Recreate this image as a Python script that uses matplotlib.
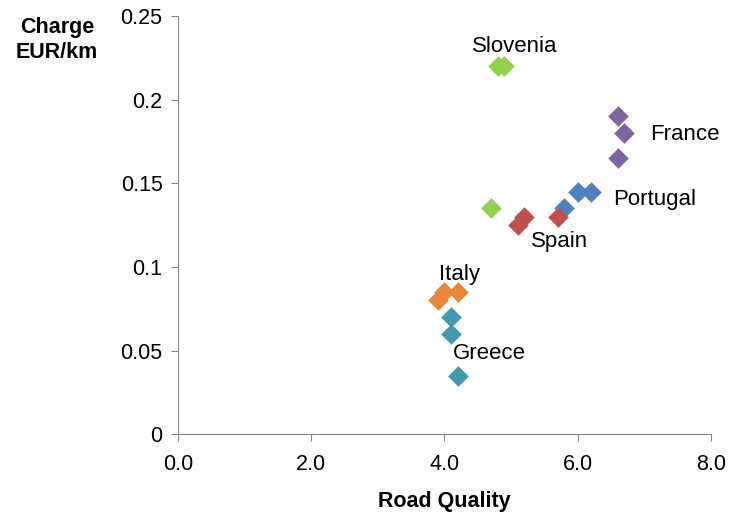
import matplotlib.pyplot as plt

plt.rcParams['font.family'] = ['Liberation Sans', 'DejaVu Sans']

# data: road quality (x) vs charge EUR/km (y)
countries = ['Slovenia', 'France', 'Portugal', 'Spain', 'Italy', 'Greece']
quality = {
    'Slovenia': [4.8, 4.9, 4.7],
    'France': [6.6, 6.7, 6.6],
    'Portugal': [6.0, 6.2, 5.8],
    'Spain': [5.1, 5.2, 5.7],
    'Italy': [3.9, 4.0, 4.2],
    'Greece': [4.1, 4.1, 4.2],
}
charge = {
    'Slovenia': [0.22, 0.22, 0.135],
    'France': [0.19, 0.18, 0.165],
    'Portugal': [0.145, 0.145, 0.135],
    'Spain': [0.125, 0.13, 0.13],
    'Italy': [0.08, 0.085, 0.085],
    'Greece': [0.07, 0.06, 0.035],
}
colors = {
    'Slovenia': '#92D050',
    'France': '#8064A2',
    'Portugal': '#4F81BD',
    'Spain': '#C0504D',
    'Italy': '#E8873A',
    'Greece': '#4198AF',
}
# label anchor points (data coords)
label_pos = {
    'Slovenia': (5.06, 0.2315),
    'France': (7.61, 0.179),
    'Portugal': (7.15, 0.14),
    'Spain': (5.73, 0.115),
    'Italy': (4.23, 0.0957),
    'Greece': (4.68, 0.048),
}

fig = plt.figure(figsize=(7.32, 5.15), dpi=100)
ax = fig.add_axes([0.243, 0.157, 0.728, 0.812])

for c in countries:
    ax.scatter(quality[c], charge[c], marker='D', s=110, color=colors[c],
               linewidths=0, zorder=3)
    ax.text(*label_pos[c], c, fontsize=16, ha='center', va='center')

ax.set_xlim(0, 8)
ax.set_ylim(0, 0.25)
ax.set_xticks([0, 2, 4, 6, 8])
ax.set_xticklabels(['0.0', '2.0', '4.0', '6.0', '8.0'])
ax.set_yticks([0, 0.05, 0.1, 0.15, 0.2, 0.25])
ax.set_yticklabels(['0', '0.05', '0.1', '0.15', '0.2', '0.25'])
ax.tick_params(labelsize=15.5, color='#868686', length=5, direction='out')
ax.tick_params(axis='x', pad=9)
ax.tick_params(axis='y', pad=6)
for s in ['top', 'right']:
    ax.spines[s].set_visible(False)
for s in ['left', 'bottom']:
    ax.spines[s].set_color('#868686')

ax.set_xlabel('Road Quality', fontsize=15.5, fontweight='bold', labelpad=12)
fig.text(0.078, 0.923, 'Charge\nEUR/km', fontsize=15.5, fontweight='bold',
         ha='center', va='center', linespacing=1.26)

plt.savefig('out.png')
